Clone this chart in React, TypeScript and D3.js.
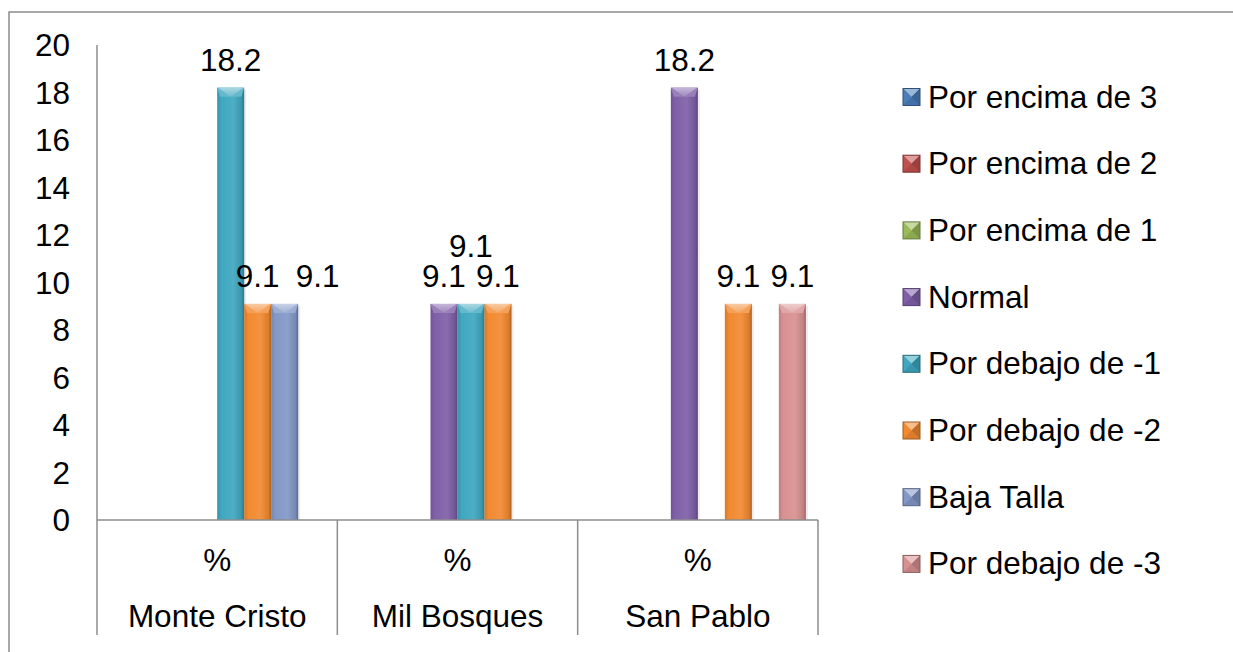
import React from "react";
import * as d3 from "d3";

const categories = ["Monte Cristo", "Mil Bosques", "San Pablo"];
const categoryTopLabels = ["%", "%", "%"];
const seriesNames = [
  "Por encima de 3",
  "Por encima de 2",
  "Por encima de 1",
  "Normal",
  "Por debajo de -1",
  "Por debajo de -2",
  "Baja Talla",
  "Por debajo de -3",
];
// values per series, in category order
const porEncima3 = [0, 0, 0];
const porEncima2 = [0, 0, 0];
const porEncima1 = [0, 0, 0];
const normal = [0, 9.1, 18.2];
const porDebajo1 = [18.2, 9.1, 0];
const porDebajo2 = [9.1, 9.1, 9.1];
const bajaTalla = [9.1, 0, 0];
const porDebajo3 = [0, 0, 9.1];
const seriesValues = [porEncima3, porEncima2, porEncima1, normal, porDebajo1, porDebajo2, bajaTalla, porDebajo3];
const yTicks = [0, 2, 4, 6, 8, 10, 12, 14, 16, 18, 20];

const seriesColors = ["#4A7DBA", "#C0504D", "#9BBB59", "#7F5FA8", "#3FA7C0", "#F28A30", "#8298C8", "#D99090"];

// label nudges (as rendered by the original to avoid overlaps): [category, series, dx, dy]
const labelNudges: [number, number, number, number][] = [
  [0, 6, 33, 0],
  [1, 4, 0, -30],
];

const FONT = "'Liberation Sans', Arial, Helvetica, sans-serif";
const FS = 31.5;

export default function App() {
  const W = 1233, H = 652;
  const left = 97, right = 818, top = 45, bottom = 520;
  const x0 = d3.scaleBand<string>().domain(categories).range([left, right]).paddingInner(0).paddingOuter(0);
  const x1 = d3.scaleBand<number>().domain(d3.range(seriesNames.length)).range([0, x0.bandwidth()]).paddingInner(0).paddingOuter(0.45);
  const y = d3.scaleLinear().domain([0, 20]).range([bottom, top]);
  const bw = x1.bandwidth();
  const bevel = 9;

  const lighten = (c: string, k: number) => d3.interpolateRgb(c, "#ffffff")(k);
  const darken = (c: string, k: number) => d3.interpolateRgb(c, "#000000")(k);

  const legendX = 903, legendY0 = 97, legendStep = 66.7;

  return (
    <svg width={W} height={H} style={{ position: "absolute", left: 0, top: 0, background: "#fff", overflow: "hidden" }} fontFamily={FONT}>
      <defs>
        {seriesColors.map((c, i) => (
          <linearGradient key={i} id={`g${i}`} x1="0" x2="1" y1="0" y2="0">
            <stop offset="0" stopColor={darken(c, 0.12)} />
            <stop offset="0.15" stopColor={c} />
            <stop offset="0.6" stopColor={lighten(c, 0.08)} />
            <stop offset="0.9" stopColor={darken(c, 0.1)} />
            <stop offset="1" stopColor={darken(c, 0.3)} />
          </linearGradient>
        ))}
        {seriesColors.map((c, i) => (
          <linearGradient key={"t" + i} id={`t${i}`} x1="0" x2="0" y1="0" y2="1">
            <stop offset="0" stopColor={lighten(c, 0.55)} />
            <stop offset="1" stopColor={lighten(c, 0.25)} />
          </linearGradient>
        ))}
      </defs>
      <rect x={0} y={0} width={W} height={H} fill="#fff" />
      {/* outer frame */}
      <rect x={9} y={12} width={W + 20} height={H + 20} fill="none" stroke="#8c8c8c" strokeWidth={1.5} />

      {/* y tick labels */}
      {yTicks.map((t) => (
        <text key={t} x={70} y={y(t)} dy="0.36em" textAnchor="end" fontSize={FS} fill="#000">
          {t}
        </text>
      ))}

      {/* bars */}
      {categories.map((cat, ci) => (
        <g key={cat} transform={`translate(${x0(cat)},0)`}>
          {seriesValues.map((vals, si) => {
            const v = vals[ci];
            if (!v) return null;
            const bx = x1(si)!;
            const by = y(v);
            const h = y(0) - by;
            return (
              <g key={si}>
                <rect x={bx + 2} y={by + 2} width={bw} height={h - 2} fill="#000" opacity={0.08} />
                <rect x={bx} y={by} width={bw} height={h} fill={`url(#g${si})`} />
                <polygon
                  points={`${bx},${by} ${bx + bw},${by} ${bx + bw - 3},${by + bevel} ${bx + 3},${by + bevel}`}
                  fill={lighten(seriesColors[si], 0.2)}
                />
                <polygon
                  points={`${bx + 1},${by} ${bx + bw - 1},${by} ${bx + bw / 2},${by + bevel}`}
                  fill={`url(#t${si})`}
                />
              </g>
            );
          })}
        </g>
      ))}

      {/* data labels */}
      {categories.map((cat, ci) =>
        seriesValues.map((vals, si) => {
          const v = vals[ci];
          if (!v) return null;
          const n = labelNudges.find((d) => d[0] === ci && d[1] === si);
          const dx = n ? n[2] : 0;
          const dy = n ? n[3] : 0;
          return (
            <text
              key={ci + "-" + si}
              x={x0(cat)! + x1(si)! + bw / 2 + dx}
              y={y(v) - 17 + dy}
              textAnchor="middle"
              fontSize={FS}
              fill="#000"
            >
              {d3.format(".1f")(v)}
            </text>
          );
        })
      )}

      {/* axes */}
      <line x1={left} x2={left} y1={top} y2={635} stroke="#8c8c8c" strokeWidth={1.5} />
      <line x1={left} x2={right} y1={bottom} y2={bottom} stroke="#8c8c8c" strokeWidth={1.5} />
      {categories.map((cat) => (
        <line key={cat} x1={x0(cat)! + x0.bandwidth()} x2={x0(cat)! + x0.bandwidth()} y1={bottom} y2={635} stroke="#8c8c8c" strokeWidth={1.5} />
      ))}
      {categories.map((cat, ci) => (
        <g key={"l" + cat}>
          <text x={x0(cat)! + x0.bandwidth() / 2} y={571} textAnchor="middle" fontSize={FS} fill="#000">
            {categoryTopLabels[ci]}
          </text>
          <text x={x0(cat)! + x0.bandwidth() / 2} y={627} textAnchor="middle" fontSize={FS} fill="#000">
            {cat}
          </text>
        </g>
      ))}

      {/* legend */}
      {seriesNames.map((s, i) => {
        const cy = legendY0 + i * legendStep;
        const c = seriesColors[i];
        const sx = legendX, sy = cy - 8.5, ss = 17;
        return (
          <g key={s}>
            <rect x={sx} y={sy} width={ss} height={ss} fill={darken(c, 0.1)} />
            <polygon points={`${sx},${sy} ${sx + ss},${sy} ${sx + ss / 2},${sy + ss / 2}`} fill={lighten(c, 0.45)} />
            <polygon points={`${sx},${sy} ${sx + ss / 2},${sy + ss / 2} ${sx},${sy + ss}`} fill={c} />
            <polygon points={`${sx + ss},${sy} ${sx + ss / 2},${sy + ss / 2} ${sx + ss},${sy + ss}`} fill={darken(c, 0.2)} />
            <rect x={sx} y={sy} width={ss} height={ss} fill="none" stroke={darken(c, 0.35)} strokeWidth={1} />
            <text x={928} y={cy + 10.5} fontSize={FS} fill="#000">
              {s}
            </text>
          </g>
        );
      })}
    </svg>
  );
}
